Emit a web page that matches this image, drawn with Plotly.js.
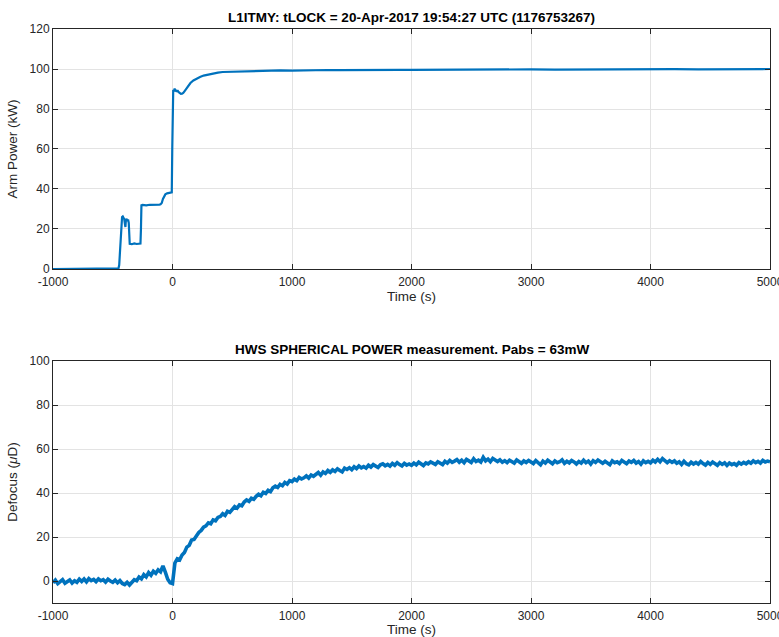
<!DOCTYPE html>
<html>
<head>
<meta charset="utf-8">
<script src="https://cdn.plot.ly/plotly-3.0.1.min.js"></script>
<style>
  html, body { margin: 0; padding: 0; background: #ffffff; }
  #chart { width: 779px; height: 637px; }
</style>
</head>
<body>
<div id="chart"></div>
<script>
// ---- Arm power after lock (kW) ----
const armTime = [
  -1000, -900, -800, -700, -600, -500, -460, -452, -446, -440,
  -434, -428, -422, -416, -410, -404, -398, -394, -390, -384,
  -378, -372, -366, -362, -358, -340, -320, -300, -280, -268,
  -264, -260, -250, -220, -190, -160, -130, -110, -100, -90,
  -80, -70, -60, -45, -30, -15, -6, -2, 2, 6,
  12, 18, 24, 30, 36, 42, 50, 60, 70, 80,
  90, 100, 115, 130, 150, 175, 200, 230, 260, 300,
  340, 380, 420, 470, 520, 580, 650, 720, 800, 900,
  1000, 1100, 1200, 1300, 1400, 1500, 1600, 1700, 1800, 1900,
  2000, 2200, 2400, 2600, 2800, 3000, 3200, 3400, 3600, 3800,
  4000, 4200, 4400, 4600, 4800, 5000
];
const armPower = [
  0, 0, 0, 0, 0, 0, 0, 0.3, 2, 10,
  18, 24, 26, 26.3, 25.8, 25, 22.5, 21, 24.5, 25,
  24, 24.8, 23, 14, 12.6, 12.4, 12.8, 12.5, 12.6, 12.7,
  20, 31.8, 32, 31.8, 32.1, 32, 31.9, 32.2, 32.4, 33,
  35, 36.5, 37.3, 37.8, 38, 38, 38.3, 60, 86, 89.5,
  89, 90.2, 88.8, 89.5, 88.6, 89.3, 88.5, 87.8, 87.6, 87.7,
  88, 88.8, 90, 91.5, 93, 94.3, 95.2, 96, 96.7, 97.3,
  97.8, 98.2, 98.5, 98.6, 98.8, 99, 99, 99.1, 99.2, 99.3,
  99.2, 99.4, 99.3, 99.5, 99.4, 99.5, 99.5, 99.6, 99.5, 99.6,
  99.6, 99.7, 99.6, 99.8, 99.7, 99.8, 99.7, 99.8, 99.8, 99.9,
  99.8, 99.9, 99.8, 99.9, 99.9, 100
];

// ---- HWS spherical power (defocus, micro-diopters), 20 s samples ----
const hwsTime = [
  -1000, -980, -960, -940, -920, -900, -880, -860, -840, -820,
  -800, -780, -760, -740, -720, -700, -680, -660, -640, -620,
  -600, -580, -560, -540, -520, -500, -480, -460, -440, -420,
  -400, -380, -360, -340, -320, -300, -280, -260, -240, -220,
  -200, -180, -160, -140, -120, -100, -80, -60, -40, -20,
  0, 20, 40, 60, 80, 100, 120, 140, 160, 180,
  200, 220, 240, 260, 280, 300, 320, 340, 360, 380,
  400, 420, 440, 460, 480, 500, 520, 540, 560, 580,
  600, 620, 640, 660, 680, 700, 720, 740, 760, 780,
  800, 820, 840, 860, 880, 900, 920, 940, 960, 980,
  1000, 1020, 1040, 1060, 1080, 1100, 1120, 1140, 1160, 1180,
  1200, 1220, 1240, 1260, 1280, 1300, 1320, 1340, 1360, 1380,
  1400, 1420, 1440, 1460, 1480, 1500, 1520, 1540, 1560, 1580,
  1600, 1620, 1640, 1660, 1680, 1700, 1720, 1740, 1760, 1780,
  1800, 1820, 1840, 1860, 1880, 1900, 1920, 1940, 1960, 1980,
  2000, 2020, 2040, 2060, 2080, 2100, 2120, 2140, 2160, 2180,
  2200, 2220, 2240, 2260, 2280, 2300, 2320, 2340, 2360, 2380,
  2400, 2420, 2440, 2460, 2480, 2500, 2520, 2540, 2560, 2580,
  2600, 2620, 2640, 2660, 2680, 2700, 2720, 2740, 2760, 2780,
  2800, 2820, 2840, 2860, 2880, 2900, 2920, 2940, 2960, 2980,
  3000, 3020, 3040, 3060, 3080, 3100, 3120, 3140, 3160, 3180,
  3200, 3220, 3240, 3260, 3280, 3300, 3320, 3340, 3360, 3380,
  3400, 3420, 3440, 3460, 3480, 3500, 3520, 3540, 3560, 3580,
  3600, 3620, 3640, 3660, 3680, 3700, 3720, 3740, 3760, 3780,
  3800, 3820, 3840, 3860, 3880, 3900, 3920, 3940, 3960, 3980,
  4000, 4020, 4040, 4060, 4080, 4100, 4120, 4140, 4160, 4180,
  4200, 4220, 4240, 4260, 4280, 4300, 4320, 4340, 4360, 4380,
  4400, 4420, 4440, 4460, 4480, 4500, 4520, 4540, 4560, 4580,
  4600, 4620, 4640, 4660, 4680, 4700, 4720, 4740, 4760, 4780,
  4800, 4820, 4840, 4860, 4880, 4900, 4920, 4940, 4960, 4980,
  5000
];
const hwsDefocus = [
  -0.8, 0.4, -1.2, -0.3, 0.6, -1.0, -0.2, 0.5, -0.9, 0.1,
  -0.6, 0.8, -0.2, 0.9, -0.4, 1.1, 0.2, 0.7, -0.3, 0.9,
  0.1, 0.6, -0.5, 0.8, 0.0, -0.6, 0.4, -0.8, 0.2, -1.1,
  -1.6, -0.6, -1.8, -0.4, 0.6, 0.1, 1.8, 1.0, 2.9, 1.9,
  3.8, 2.6, 4.4, 3.5, 5.1, 4.2, 6.9, 4.0, 0.8, -0.8,
  -1.2, 8.2, 10.1, 9.6, 11.8, 13.0, 15.4, 16.2, 18.6, 18.9,
  20.8, 22.1, 23.0, 24.5, 25.1, 26.4, 26.0, 27.8, 27.4, 28.9,
  29.3, 30.6, 29.8, 31.7, 31.2, 32.5, 33.8, 33.1, 34.6, 34.2,
  35.9, 36.8, 36.2, 37.6, 37.1, 38.5, 39.4, 38.7, 40.3, 39.8,
  41.2, 40.6, 42.4, 43.1, 42.5, 43.9, 43.3, 44.8, 44.1, 45.6,
  45.2, 46.3, 45.6, 47.1, 46.4, 46.9, 47.8, 46.8, 48.2, 47.6,
  48.4, 49.3, 48.1, 49.6, 48.9, 50.2, 49.4, 50.5, 49.8, 51.0,
  50.2, 49.6, 51.3, 50.7, 51.5, 50.6, 51.9, 51.1, 52.3, 51.4,
  52.0, 51.3, 52.6, 51.8, 52.9, 52.2, 51.6, 52.8, 53.3, 52.4,
  53.0, 52.2, 53.4, 52.6, 53.8, 52.9, 52.3, 53.5, 52.7, 53.2,
  52.6, 53.6, 52.8, 54.0, 53.1, 52.5, 53.7, 53.2, 54.1, 53.4,
  53.0, 54.2, 53.5, 52.9, 54.4, 53.6, 54.8, 53.9, 54.5, 55.2,
  54.0, 54.9, 53.8, 55.3, 54.6, 53.9, 55.6, 54.3, 54.9, 54.1,
  56.2, 54.6, 55.4, 54.2, 55.7, 54.8, 54.3, 55.1, 54.0, 54.7,
  53.8, 54.9, 54.2, 53.6, 55.0, 54.1, 53.5, 54.6, 53.9, 54.8,
  54.2, 53.4, 54.7, 53.9, 52.8, 54.5, 53.6, 54.9, 54.0, 53.3,
  54.6, 53.8, 54.2, 55.1, 53.5, 54.4, 53.7, 54.8, 54.1, 53.2,
  54.3, 53.6, 54.9, 53.8, 54.5, 53.2, 54.7, 53.9, 55.0, 54.2,
  53.5, 54.4, 53.7, 52.9, 54.6, 53.8, 54.2, 53.4, 54.8, 54.0,
  53.3, 54.5, 53.9, 54.8, 53.6, 54.3, 53.1, 54.6, 53.8, 54.4,
  53.7, 54.9, 54.1, 55.3, 54.2, 55.6, 54.4, 53.8, 54.7, 53.9,
  54.6, 53.5, 54.2, 53.0, 54.4, 53.3, 52.8, 54.0, 53.2, 53.9,
  53.1, 54.3, 53.4, 52.7, 53.9, 53.0, 54.1, 53.3, 52.6, 53.8,
  53.0, 53.7, 52.5, 53.6, 52.9, 53.4, 52.6, 53.8, 53.1, 53.9,
  53.3, 54.2, 53.5, 54.6, 53.8, 54.4, 53.6, 54.8, 54.1, 54.5,
  54.2
];

// ---- Axis ticks and labels (plain hyphen for negatives) ----
const timeTicks = [-1000, 0, 1000, 2000, 3000, 4000, 5000];
const timeTickText = ['-1000', '0', '1000', '2000', '3000', '4000', '5000'];
const armTicks = [0, 20, 40, 60, 80, 100, 120];
const hwsTicks = [0, 20, 40, 60, 80, 100];

const topTitle = 'L1ITMY: tLOCK = 20-Apr-2017 19:54:27 UTC (1176753267)';
const bottomTitle = 'HWS SPHERICAL POWER measurement. Pabs = 63mW';

const FONT = 'Liberation Sans, Arial, Helvetica, sans-serif';
const INK = '#262626';
const LINE = '#0072BD';

function axisStyle(extra) {
  return Object.assign({
    ticks: 'inside',
    ticklen: 5,
    tickwidth: 1,
    tickcolor: INK,
    showline: true,
    linecolor: INK,
    linewidth: 1,
    mirror: 'ticks',
    showgrid: true,
    gridcolor: '#e3e3e3',
    gridwidth: 1,
    zeroline: false,
    tickfont: { family: FONT, size: 12, color: INK },
    ticklabeloverflow: 'allow',
    automargin: false
  }, extra);
}

const titleFont = { family: FONT, size: 13.5, color: INK };

const traces = [
  {
    x: armTime, y: armPower, type: 'scatter', mode: 'lines',
    line: { color: LINE, width: 2.2 }, xaxis: 'x', yaxis: 'y', hoverinfo: 'skip'
  },
  {
    x: hwsTime, y: hwsDefocus, type: 'scatter', mode: 'lines',
    line: { color: LINE, width: 3.6 }, xaxis: 'x2', yaxis: 'y2', hoverinfo: 'skip'
  }
];

const layout = {
  width: 779,
  height: 637,
  margin: { l: 53, r: 9, t: 29, b: 34 },
  paper_bgcolor: '#ffffff',
  plot_bgcolor: '#ffffff',
  showlegend: false,
  font: { family: FONT, color: INK },
  xaxis: axisStyle({
    domain: [0, 1], anchor: 'y', range: [-1000, 5000],
    tickmode: 'array', tickvals: timeTicks, ticktext: timeTickText,
    ticklabelstandoff: 2,
    title: { text: 'Time (s)', font: titleFont, standoff: 3 }
  }),
  yaxis: axisStyle({
    domain: [0.5819, 1], anchor: 'x', range: [0, 120],
    tickmode: 'array', tickvals: armTicks,
    title: { text: 'Arm Power (kW)', font: titleFont, standoff: 8 }
  }),
  xaxis2: axisStyle({
    domain: [0, 1], anchor: 'y2', range: [-1000, 5000],
    tickmode: 'array', tickvals: timeTicks, ticktext: timeTickText,
    ticklabelstandoff: 2,
    title: { text: 'Time (s)', font: titleFont, standoff: 3 }
  }),
  yaxis2: axisStyle({
    domain: [0, 0.4216], anchor: 'x2', range: [-10, 100],
    tickmode: 'array', tickvals: hwsTicks,
    title: { text: 'Defocus (<i>μ</i>D)', font: titleFont, standoff: 8 }
  }),
  annotations: [
    {
      text: '<b>' + topTitle + '</b>', xref: 'paper', yref: 'paper',
      x: 0.5, y: 1, xanchor: 'center', yanchor: 'bottom', yshift: 2,
      showarrow: false, font: { family: FONT, size: 13.5, color: '#000000' }
    },
    {
      text: '<b>' + bottomTitle + '</b>', xref: 'paper', yref: 'paper',
      x: 0.5, y: 0.4216, xanchor: 'center', yanchor: 'bottom', yshift: 2,
      showarrow: false, font: { family: FONT, size: 13.5, color: '#000000' }
    }
  ]
};

Plotly.newPlot('chart', traces, layout, { staticPlot: true, displayModeBar: false });
</script>
</body>
</html>
